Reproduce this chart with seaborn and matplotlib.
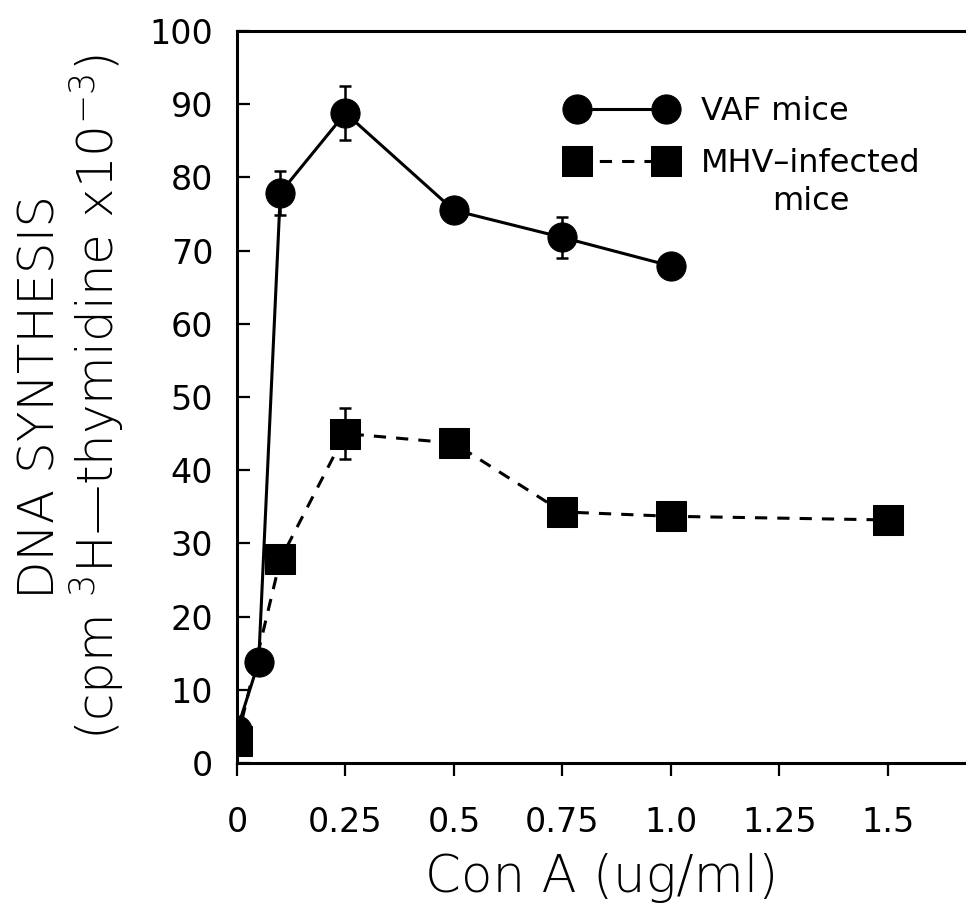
import numpy as np
import pandas as pd
import matplotlib
matplotlib.use("Agg")
import matplotlib.pyplot as plt
import seaborn as sns

# Con A dose (ug/ml) and DNA synthesis (cpm 3H-thymidine x10^-3)
conc_vaf = [0, 0.05, 0.1, 0.25, 0.5, 0.75, 1.0]
dna_vaf = [4.5, 13.8, 77.9, 88.8, 75.5, 71.8, 67.9]
err_vaf = [0, 0, 3.0, 3.7, 0, 2.8, 0]

conc_mhv = [0, 0.1, 0.25, 0.5, 0.75, 1.0, 1.5]
dna_mhv = [3.0, 27.8, 45.0, 43.7, 34.3, 33.7, 33.2]
err_mhv = [0, 0, 3.5, 0, 0, 0, 0]

lab_vaf = "VAF mice"
lab_mhv = "MHV\u2013infected"
lab_mhv2 = "mice"

xticks = [0, 0.25, 0.5, 0.75, 1.0, 1.25, 1.5]
xtick_labels = ["0", "0.25", "0.5", "0.75", "1.0", "1.25", "1.5"]
yticks = [0, 10, 20, 30, 40, 50, 60, 70, 80, 90, 100]

df = pd.concat([
    pd.DataFrame({"conc": conc_vaf, "dna": dna_vaf, "group": lab_vaf}),
    pd.DataFrame({"conc": conc_mhv, "dna": dna_mhv, "group": lab_mhv}),
], ignore_index=True)

sns.set_style("ticks")
plt.rcParams["font.family"] = ["DejaVu Sans"]
plt.rcParams["text.color"] = "black"
plt.rcParams["xtick.color"] = "black"
plt.rcParams["ytick.color"] = "black"
plt.rcParams["axes.labelcolor"] = "black"
plt.rcParams["mathtext.fontset"] = "custom"
plt.rcParams["mathtext.rm"] = "DejaVu Sans:light"
plt.rcParams["mathtext.it"] = "DejaVu Sans:light"

fig = plt.figure(figsize=(9.66, 9.18), dpi=100)
ax = fig.add_axes([0.2453, 0.1689, 0.7547, 0.7973])

sns.lineplot(
    data=df,
    x="conc",
    y="dna",
    style="group",
    markers={lab_vaf: "o", lab_mhv: "s"},
    dashes={lab_vaf: "", lab_mhv: (4, 3.3)},
    color="black",
    linewidth=2.2,
    markersize=21,
    markeredgecolor="black",
    sort=False,
    errorbar=None,
    legend=False,
    ax=ax,
)

for xs, ys, es in [(conc_vaf, dna_vaf, err_vaf), (conc_mhv, dna_mhv, err_mhv)]:
    xs, ys, es = np.array(xs), np.array(ys), np.array(es)
    m = es > 0
    ax.errorbar(xs[m], ys[m], yerr=es[m], fmt="none", ecolor="black",
                elinewidth=1.8, capsize=4, capthick=1.8)

ax.set_xlim(0, 1.68)
ax.set_ylim(0, 100)
ax.set_xticks(xticks)
ax.set_xticklabels(xtick_labels)
ax.set_yticks(yticks)

ax.tick_params(axis="y", direction="in", length=9, width=1.6,
               labelsize=24, pad=17)
ax.tick_params(axis="x", direction="out", length=9, width=1.6,
               labelsize=24, pad=22)

for s in ["left", "bottom", "top"]:
    ax.spines[s].set_linewidth(2.2)
    ax.spines[s].set_color("black")
ax.spines["right"].set_visible(False)

ax.set_xlabel("Con A (ug/ml)", fontsize=37, fontweight="light", labelpad=10)
ax.set_ylabel("DNA SYNTHESIS\n(cpm $^{3}$H\u2014thymidine x10$^{-3}$)",
              fontsize=36, fontweight="light", linespacing=1.05,
              multialignment="center")
ax.yaxis.set_label_coords(-0.152, 0.5)

leg = ax.legend(
    handles=ax.lines[:2],
    labels=[lab_vaf, lab_mhv],
    loc="upper left",
    bbox_to_anchor=(0.4527, 0.911),
    frameon=False,
    fontsize=23,
    numpoints=2,
    handlelength=3.4,
    handletextpad=0.8,
    borderpad=0,
    borderaxespad=0,
    labelspacing=0.65,
)

# second line of the MHV label, centred under it
fig.canvas.draw()
bb = leg.get_texts()[1].get_window_extent()
x_c, y_c = fig.transFigure.inverted().transform(((bb.x0 + bb.x1) / 2, bb.y0 - 23))
fig.text(x_c, y_c, lab_mhv2, fontsize=23, ha="center", va="center")

fig.savefig("out.png", dpi=100)
